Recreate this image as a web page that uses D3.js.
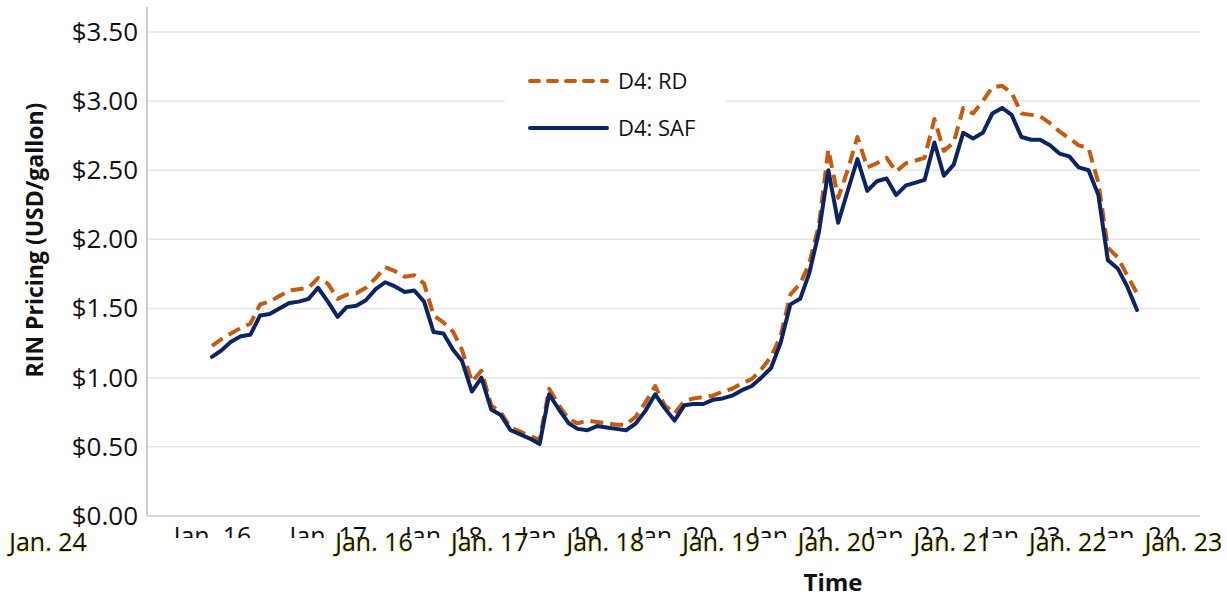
<!DOCTYPE html>
<html>
<head>
<meta charset="utf-8">
<script src="https://cdn.jsdelivr.net/npm/d3@7"></script>
<style>
	body { margin: 0; background: #fff; }
	svg { display: block; }
</style>
</head>
<body>
<div id="chart"></div>
<script>
// Data
var startMonth = new Date(2016, 0, 1);
var endMonth = new Date(2024, 0, 1);
var months = d3.timeMonth.range(startMonth, d3.timeMonth.offset(endMonth, 1));

var rdValues = [
	1.23, 1.28, 1.32, 1.36, 1.39, 1.53, 1.55, 1.59, 1.63, 1.64,
	1.65, 1.72, 1.68, 1.57, 1.60, 1.61, 1.65, 1.72, 1.80, 1.77,
	1.73, 1.74, 1.68, 1.45, 1.40, 1.33, 1.20, 0.97, 1.05, 0.80,
	0.75, 0.64, 0.61, 0.58, 0.55, 0.92, 0.80, 0.70, 0.67, 0.69,
	0.68, 0.67, 0.66, 0.66, 0.72, 0.82, 0.94, 0.80, 0.74, 0.83,
	0.85, 0.86, 0.87, 0.90, 0.92, 0.96, 0.99, 1.06, 1.15, 1.30,
	1.60, 1.68, 1.82, 2.10, 2.65, 2.30, 2.50, 2.74, 2.52, 2.55,
	2.59, 2.49, 2.55, 2.57, 2.59, 2.87, 2.64, 2.70, 2.95, 2.91,
	3.00, 3.10, 3.11, 3.06, 2.91, 2.90, 2.89, 2.84, 2.78, 2.73,
	2.68, 2.66, 2.41, 1.94, 1.87, 1.74, 1.61
];

var safValues = [
	1.15, 1.20, 1.26, 1.30, 1.31, 1.45, 1.46, 1.50, 1.54, 1.55,
	1.57, 1.65, 1.55, 1.44, 1.51, 1.52, 1.56, 1.64, 1.69, 1.66,
	1.62, 1.63, 1.55, 1.33, 1.32, 1.20, 1.12, 0.90, 1.00, 0.77,
	0.73, 0.62, 0.59, 0.56, 0.52, 0.88, 0.77, 0.67, 0.63, 0.62,
	0.65, 0.64, 0.63, 0.62, 0.67, 0.76, 0.88, 0.78, 0.69, 0.80,
	0.81, 0.81, 0.84, 0.85, 0.87, 0.91, 0.94, 1.00, 1.07, 1.25,
	1.53, 1.57, 1.75, 2.05, 2.50, 2.12, 2.35, 2.58, 2.35, 2.42,
	2.44, 2.32, 2.39, 2.41, 2.43, 2.70, 2.46, 2.54, 2.77, 2.73,
	2.77, 2.91, 2.95, 2.90, 2.74, 2.72, 2.72, 2.68, 2.62, 2.60,
	2.52, 2.50, 2.32, 1.85, 1.79, 1.66, 1.49
];

var yTicks = [0, 0.5, 1, 1.5, 2, 2.5, 3, 3.5];
var xTickLabels = ['Jan. 16', 'Jan. 17', 'Jan. 18', 'Jan. 19', 'Jan. 20', 'Jan. 21', 'Jan. 22', 'Jan. 23', 'Jan. 24'];
var seriesNames = ['D4: RD', 'D4: SAF'];

var attrs = {
	svgWidth: 1227,
	svgHeight: 598,
	plotLeft: 147,
	plotRight: 1200,
	plotTop: 7,
	plotBottom: 516,
	firstX: 212,
	lastX: 1137,
	font: "'Open Sans', 'Noto Sans', sans-serif",
	rdColor: '#c55a11',
	safColor: '#0c2461',
	gridColor: '#e6e6e6',
	yTickFontSize: 26,
	xTickFontSize: 25
};

var svg = d3.select('#chart').append('svg')
	.attr('width', attrs.svgWidth)
	.attr('height', attrs.svgHeight)
	.style('font-family', attrs.font);

var x = d3.scaleTime()
	.domain([startMonth, endMonth])
	.range([attrs.firstX, attrs.lastX]);

var y = d3.scaleLinear()
	.domain([0, 3.68])
	.range([attrs.plotBottom, attrs.plotTop]);

// Gridlines
svg.append('g')
	.selectAll('line')
	.data(yTicks.filter(d => d > 0))
	.enter().append('line')
	.attr('x1', attrs.plotLeft)
	.attr('x2', attrs.plotRight)
	.attr('y1', d => y(d))
	.attr('y2', d => y(d))
	.attr('stroke', attrs.gridColor)
	.attr('stroke-width', 1.5);

// Y axis
var yAxis = svg.append('g')
	.attr('transform', 'translate(' + attrs.plotLeft + ',0)')
	.call(d3.axisLeft(y).tickValues(yTicks).tickSize(0).tickPadding(9).tickFormat(d => '$' + d3.format('.2f')(d)));
yAxis.select('.domain').remove();
yAxis.selectAll('text')
	.attr('font-size', attrs.yTickFontSize)
	.attr('fill', '#111')
	.style('font-family', attrs.font);

svg.append('line')
	.attr('x1', attrs.plotLeft).attr('x2', attrs.plotLeft)
	.attr('y1', attrs.plotTop).attr('y2', attrs.plotBottom)
	.attr('stroke', '#bfbfbf').attr('stroke-width', 1.5);

svg.append('line')
	.attr('x1', attrs.plotLeft).attr('x2', attrs.plotRight)
	.attr('y1', attrs.plotBottom).attr('y2', attrs.plotBottom)
	.attr('stroke', '#d4d9d9').attr('stroke-width', 2);

// X labels: the upper row is clipped, a second row is drawn shifted to the right
svg.append('clipPath').attr('id', 'tick-clip')
	.append('rect')
	.attr('x', 0).attr('y', 518)
	.attr('width', attrs.svgWidth).attr('height', 20);

var xAxis = svg.append('g')
	.attr('clip-path', 'url(#tick-clip)')
	.append('g')
	.attr('transform', 'translate(0,' + attrs.plotBottom + ')')
	.call(d3.axisBottom(x).tickValues(d3.timeYear.range(startMonth, d3.timeYear.offset(endMonth, 1))).tickSize(0).tickPadding(11)
		.tickFormat((d, i) => xTickLabels[i]));
xAxis.select('.domain').remove();
xAxis.selectAll('text')
	.attr('font-size', attrs.xTickFontSize)
	.attr('fill', '#111')
	.style('font-family', attrs.font);

var shiftedLabels = xTickLabels.slice(0, 8).map((label, i) => ({ label: label, x: x(new Date(2016 + i, 0, 1)) + 162 }));
shiftedLabels.push({ label: xTickLabels[8], x: 48 });

var shifted = svg.append('g');
shifted.selectAll('text.fringe')
	.data(shiftedLabels)
	.enter().append('text')
	.attr('class', 'fringe')
	.attr('x', d => d.x - 0.8)
	.attr('y', 552)
	.attr('text-anchor', 'middle')
	.attr('font-size', attrs.xTickFontSize)
	.attr('fill', '#e6df00')
	.attr('opacity', 0.7)
	.text(d => d.label);
shifted.selectAll('text.label')
	.data(shiftedLabels)
	.enter().append('text')
	.attr('class', 'label')
	.attr('x', d => d.x)
	.attr('y', 551)
	.attr('text-anchor', 'middle')
	.attr('font-size', attrs.xTickFontSize)
	.attr('fill', '#111')
	.text(d => d.label);

// Axis titles
svg.append('text')
	.attr('transform', 'translate(43,240) rotate(-90)')
	.attr('text-anchor', 'middle')
	.attr('font-size', 23)
	.attr('font-weight', 'bold')
	.attr('fill', '#111')
	.text('RIN Pricing (USD/gallon)');

svg.append('text')
	.attr('x', 833)
	.attr('y', 591)
	.attr('text-anchor', 'middle')
	.attr('font-size', 24)
	.attr('font-weight', 'bold')
	.attr('fill', '#111')
	.text('Time');

// Lines
var line = d3.line()
	.x((d, i) => x(months[i]))
	.y(d => y(d));

svg.append('path')
	.datum(rdValues)
	.attr('d', line)
	.attr('fill', 'none')
	.attr('stroke', attrs.rdColor)
	.attr('stroke-width', 4)
	.attr('stroke-dasharray', '13,7')
	.attr('stroke-linejoin', 'round');

svg.append('path')
	.datum(safValues)
	.attr('d', line)
	.attr('fill', 'none')
	.attr('stroke', attrs.safColor)
	.attr('stroke-width', 4)
	.attr('stroke-linejoin', 'round')
	.attr('stroke-linecap', 'round');

// Legend
var legend = svg.append('g');
legend.append('rect')
	.attr('x', 505).attr('y', 48)
	.attr('width', 220).attr('height', 104)
	.attr('fill', '#fff');

var legendItems = legend.selectAll('g.item')
	.data(seriesNames)
	.enter().append('g')
	.attr('class', 'item')
	.attr('transform', (d, i) => 'translate(0,' + (81 + i * 47) + ')');

legendItems.append('line')
	.attr('x1', 530).attr('x2', 607)
	.attr('stroke', (d, i) => i === 0 ? attrs.rdColor : attrs.safColor)
	.attr('stroke-width', 4)
	.attr('stroke-linecap', 'round')
	.attr('stroke-dasharray', (d, i) => i === 0 ? '9,9' : null);

legendItems.append('text')
	.attr('x', 618)
	.attr('y', 8)
	.attr('font-size', 22)
	.attr('fill', '#111')
	.text(d => d);
</script>
</body>
</html>
